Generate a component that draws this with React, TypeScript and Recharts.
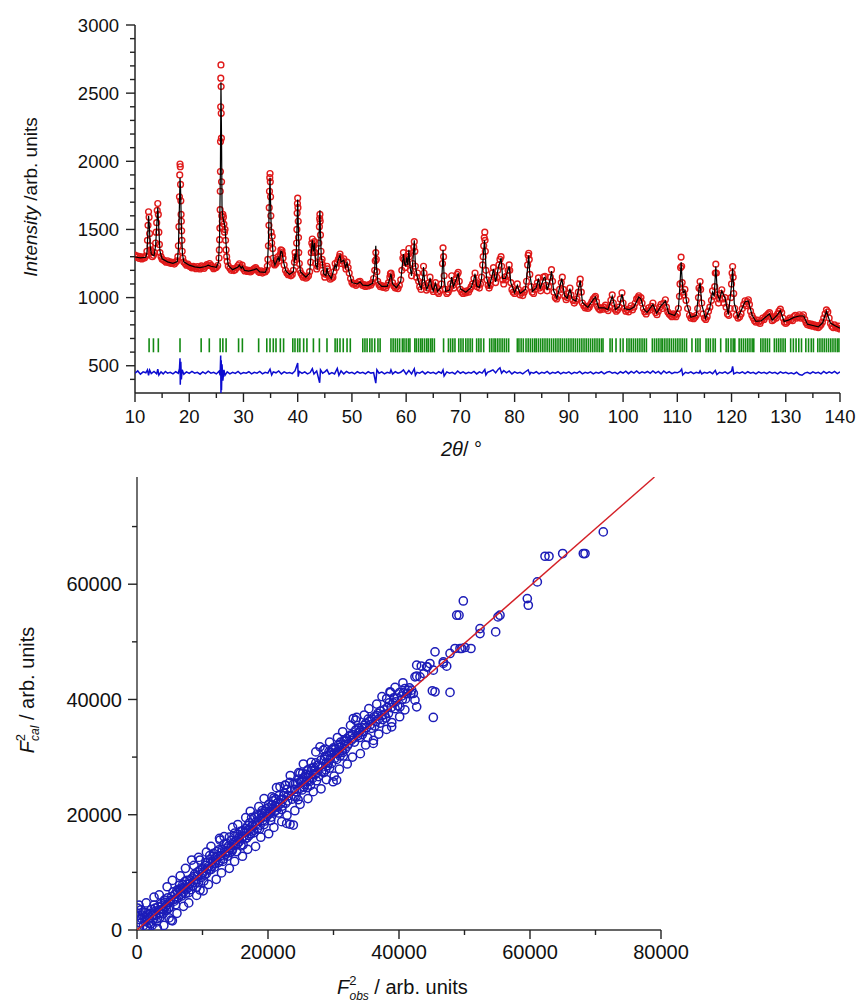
import React from 'react';
import { ScatterChart, Scatter, XAxis, YAxis } from 'recharts';

// ---------- top panel: powder pattern ----------
const observed: [number, number][] = [
  [10.0, 1312], [10.25, 1296], [10.5, 1305], [10.75, 1288], [11.0, 1300], [11.25, 1284], [11.5, 1298], [11.75, 1290], [12.0, 1305],
  [12.2, 1340], [12.3, 1420], [12.4, 1530], [12.5, 1630], [12.6, 1590], [12.7, 1470], [12.8, 1380], [12.9, 1350], [13.0, 1330], [13.2, 1300], [13.4, 1310], [13.6, 1330],
  [13.8, 1400], [13.9, 1480], [14.0, 1550], [14.1, 1640], [14.2, 1690], [14.3, 1610], [14.4, 1480], [14.5, 1390], [14.6, 1330], [14.8, 1300],
  [15.0, 1282], [15.25, 1275], [15.5, 1268], [15.75, 1260], [16.0, 1270], [16.25, 1255], [16.5, 1262], [16.75, 1250], [17.0, 1258], [17.25, 1246], [17.5, 1260], [17.75, 1270],
  [17.9, 1300], [18.0, 1380], [18.1, 1520], [18.2, 1740], [18.25, 1900], [18.3, 1980], [18.35, 1960], [18.4, 1830], [18.45, 1710], [18.5, 1610], [18.55, 1560], [18.6, 1490], [18.65, 1420], [18.7, 1340], [18.8, 1290],
  [19.0, 1262], [19.25, 1250], [19.5, 1238], [19.75, 1246], [20.0, 1232], [20.25, 1226], [20.5, 1218], [20.75, 1230], [21.0, 1222], [21.25, 1212], [21.5, 1228], [21.75, 1218], [22.0, 1210], [22.25, 1232], [22.5, 1224], [22.75, 1215], [23.0, 1230], [23.25, 1242], [23.5, 1236], [23.75, 1250], [24.0, 1238], [24.25, 1226], [24.5, 1212], [24.75, 1218], [25.0, 1222], [25.25, 1235],
  [25.5, 1290], [25.55, 1350], [25.6, 1425], [25.65, 1510], [25.7, 1645], [25.72, 1780], [25.75, 1925], [25.77, 2145], [25.8, 2400], [25.82, 2610], [25.85, 2707], [25.88, 2548], [25.9, 2352], [25.93, 2170], [25.96, 1850], [26.0, 1600], [26.05, 1520], [26.1, 1560], [26.2, 1610], [26.3, 1590], [26.4, 1540], [26.5, 1480], [26.6, 1500], [26.7, 1420], [26.8, 1350], [26.9, 1300], [27.0, 1265], [27.2, 1232],
  [27.5, 1215], [27.75, 1200], [28.0, 1212], [28.25, 1198], [28.5, 1206], [28.75, 1220], [29.0, 1235], [29.25, 1248], [29.5, 1225], [29.75, 1238], [30.0, 1210], [30.25, 1196], [30.5, 1204], [30.75, 1192], [31.0, 1200], [31.25, 1188], [31.5, 1196], [31.75, 1205], [32.0, 1212], [32.25, 1220], [32.5, 1206], [32.75, 1192], [33.0, 1185], [33.25, 1196], [33.5, 1180], [33.75, 1190], [34.0, 1188], [34.25, 1200],
  [34.4, 1230], [34.5, 1280], [34.6, 1380], [34.7, 1530], [34.75, 1660], [34.8, 1780], [34.85, 1880], [34.9, 1910], [34.95, 1850], [35.0, 1740], [35.05, 1600], [35.1, 1480], [35.2, 1400], [35.3, 1450], [35.4, 1360], [35.5, 1290], [35.6, 1250], [35.75, 1240],
  [36.0, 1250], [36.2, 1280], [36.4, 1300], [36.6, 1270], [36.8, 1320], [36.9, 1350], [37.0, 1330], [37.1, 1345], [37.2, 1320], [37.3, 1290], [37.5, 1240], [37.75, 1200], [38.0, 1180], [38.25, 1168], [38.5, 1175], [38.75, 1160], [39.0, 1170],
  [39.2, 1200], [39.4, 1260], [39.5, 1330], [39.6, 1300], [39.7, 1280], [39.8, 1400], [39.85, 1500], [39.9, 1620], [39.95, 1690], [40.0, 1730], [40.05, 1660], [40.1, 1560], [40.15, 1440], [40.2, 1330], [40.3, 1250], [40.4, 1200], [40.6, 1180], [40.8, 1165],
  [41.0, 1150], [41.25, 1158], [41.5, 1142], [41.75, 1150], [42.0, 1160], [42.2, 1190], [42.4, 1260], [42.5, 1330], [42.6, 1400], [42.7, 1430], [42.8, 1380], [42.9, 1340], [43.0, 1380], [43.1, 1410], [43.2, 1330], [43.3, 1250], [43.5, 1210],
  [43.7, 1230], [43.8, 1300], [43.9, 1400], [44.0, 1520], [44.05, 1580], [44.1, 1610], [44.15, 1560], [44.2, 1460], [44.3, 1340], [44.4, 1260], [44.5, 1280], [44.6, 1240], [44.8, 1180], [45.0, 1150], [45.2, 1170], [45.4, 1230], [45.5, 1210], [45.7, 1160],
  [46.0, 1135], [46.25, 1142], [46.5, 1150], [46.7, 1190], [46.9, 1250], [47.1, 1220], [47.3, 1260], [47.5, 1280], [47.7, 1300], [47.8, 1320], [47.9, 1290], [48.1, 1250], [48.3, 1270], [48.5, 1285], [48.7, 1240], [48.9, 1210], [49.1, 1260], [49.3, 1220], [49.5, 1180], [49.75, 1140],
  [50.0, 1110], [50.25, 1098], [50.5, 1105], [50.75, 1090], [51.0, 1100], [51.25, 1115], [51.5, 1120], [51.75, 1100], [52.0, 1088], [52.25, 1096], [52.5, 1082], [52.75, 1090], [53.0, 1085], [53.25, 1098], [53.5, 1092], [53.75, 1110],
  [54.0, 1140], [54.2, 1200], [54.3, 1270], [54.4, 1330], [54.5, 1280], [54.6, 1190], [54.75, 1120], [55.0, 1095], [55.25, 1080], [55.5, 1088], [55.75, 1075], [56.0, 1082], [56.25, 1070], [56.5, 1090], [56.75, 1110],
  [57.0, 1150], [57.1, 1175], [57.2, 1180], [57.3, 1160], [57.5, 1110], [57.75, 1085], [58.0, 1070], [58.25, 1078], [58.5, 1066], [58.75, 1090], [59.0, 1130], [59.2, 1200], [59.4, 1290], [59.5, 1330], [59.6, 1280], [59.8, 1220],
  [60.0, 1260], [60.1, 1300], [60.2, 1250], [60.4, 1320], [60.5, 1360], [60.6, 1300], [60.8, 1200], [61.0, 1160], [61.2, 1250], [61.4, 1370], [61.5, 1410], [61.6, 1340], [61.7, 1230], [61.9, 1150], [62.1, 1180], [62.3, 1120], [62.5, 1080], [62.75, 1060],
  [63.0, 1110], [63.2, 1230], [63.3, 1180], [63.5, 1090], [63.75, 1055], [64.0, 1070], [64.2, 1110], [64.4, 1150], [64.6, 1100], [64.8, 1060], [65.0, 1045], [65.25, 1080], [65.4, 1110], [65.6, 1070], [65.8, 1040], [66.0, 1030], [66.25, 1050],
  [66.5, 1100], [66.7, 1250], [66.8, 1365], [66.9, 1300], [67.0, 1160], [67.2, 1060], [67.5, 1030], [67.75, 1040], [68.0, 1060], [68.2, 1100], [68.4, 1160], [68.6, 1090], [68.8, 1070], [69.0, 1110], [69.2, 1140], [69.4, 1170], [69.6, 1185], [69.8, 1120],
  [70.0, 1060], [70.25, 1040], [70.5, 1030], [70.75, 1045], [71.0, 1035], [71.25, 1050], [71.5, 1040], [71.75, 1060], [72.0, 1080], [72.25, 1100], [72.5, 1140], [72.7, 1180], [72.9, 1110], [73.1, 1080], [73.3, 1095], [73.5, 1070], [73.7, 1100], [73.9, 1150],
  [74.1, 1240], [74.2, 1300], [74.3, 1380], [74.4, 1440], [74.5, 1480], [74.55, 1420], [74.6, 1340], [74.7, 1200], [74.9, 1130], [75.1, 1090], [75.3, 1070], [75.5, 1090], [75.7, 1130], [75.9, 1180], [76.1, 1220], [76.3, 1150], [76.5, 1110], [76.7, 1150],
  [76.9, 1200], [77.1, 1240], [77.3, 1280], [77.5, 1300], [77.6, 1230], [77.8, 1130], [78.0, 1100], [78.2, 1150], [78.4, 1130], [78.6, 1160], [78.8, 1200], [79.0, 1240], [79.1, 1200], [79.3, 1110], [79.5, 1060], [79.75, 1040],
  [80.0, 1030], [80.25, 1050], [80.5, 1100], [80.7, 1060], [81.0, 1020], [81.25, 1035], [81.5, 1015], [81.75, 1040], [82.0, 1060], [82.2, 1120], [82.4, 1240], [82.5, 1310], [82.6, 1325], [82.7, 1280], [82.8, 1170], [83.0, 1080], [83.25, 1040], [83.5, 1030], [83.75, 1060],
  [84.0, 1080], [84.2, 1110], [84.4, 1145], [84.6, 1070], [84.8, 1050], [85.0, 1080], [85.3, 1150], [85.6, 1155], [85.8, 1090], [86.0, 1050], [86.3, 1080], [86.6, 1150], [86.8, 1205], [87.0, 1120], [87.25, 1040], [87.5, 1000], [87.75, 990],
  [88.0, 1010], [88.3, 1060], [88.6, 1110], [88.8, 1150], [89.0, 1060], [89.25, 1010], [89.5, 985], [89.75, 1000], [90.0, 1030], [90.2, 1070], [90.4, 1020], [90.75, 980], [91.0, 960], [91.25, 975], [91.5, 990], [91.75, 1040], [92.0, 1100], [92.1, 1135], [92.3, 1040],
  [92.5, 960], [92.75, 940], [93.0, 925], [93.25, 935], [93.5, 920], [93.75, 930], [94.0, 950], [94.25, 970], [94.5, 990], [94.75, 1000], [94.9, 1010], [95.1, 970], [95.3, 935], [95.5, 920], [95.75, 910], [96.0, 925], [96.25, 915], [96.5, 930], [96.75, 945],
  [97.0, 920], [97.25, 905], [97.5, 930], [97.75, 980], [98.0, 1020], [98.2, 960], [98.5, 915], [98.75, 900], [99.0, 910], [99.25, 930], [99.5, 990], [99.8, 1035], [100.0, 960], [100.25, 920], [100.5, 900], [100.75, 910], [101.0, 895], [101.25, 920], [101.5, 940],
  [101.75, 910], [102.0, 930], [102.25, 960], [102.5, 990], [102.75, 1000], [102.9, 1013], [103.1, 980], [103.3, 1000], [103.5, 960], [103.75, 920], [104.0, 895], [104.25, 880], [104.5, 900], [104.75, 925], [105.0, 910], [105.25, 935], [105.5, 960], [105.75, 920],
  [106.0, 890], [106.25, 875], [106.5, 900], [106.75, 930], [107.0, 950], [107.25, 920], [107.5, 960], [107.8, 984], [108.0, 930], [108.25, 895], [108.5, 880], [108.75, 870], [109.0, 860], [109.25, 880], [109.5, 870], [109.75, 860], [110.0, 880],
  [110.2, 920], [110.4, 1010], [110.5, 1100], [110.6, 1220], [110.7, 1297], [110.8, 1230], [110.9, 1110], [111.0, 1040], [111.2, 1020], [111.4, 1060], [111.6, 980], [111.9, 920], [112.25, 870], [112.5, 850], [112.75, 860], [113.0, 845], [113.25, 855], [113.5, 870],
  [113.75, 920], [113.9, 1000], [114.0, 1070], [114.2, 1118], [114.3, 1060], [114.5, 960], [114.75, 880], [115.0, 850], [115.25, 840], [115.5, 860], [115.75, 900], [116.0, 930], [116.3, 980], [116.5, 1050], [116.7, 1010], [116.9, 1080], [117.0, 1180],
  [117.1, 1245], [117.2, 1180], [117.4, 1020], [117.6, 960], [117.8, 990], [118.0, 1030], [118.2, 1057], [118.4, 990], [118.6, 960], [118.8, 1000], [119.0, 930], [119.25, 880], [119.5, 870], [119.75, 920], [119.9, 1000], [120.0, 1100], [120.1, 1180],
  [120.2, 1228], [120.3, 1150], [120.4, 1030], [120.6, 920], [120.9, 870], [121.2, 850], [121.5, 860], [121.75, 880], [122.0, 920], [122.25, 950], [122.5, 977], [122.7, 940], [122.9, 970], [123.1, 984], [123.3, 950], [123.5, 900], [123.75, 870],
  [124.0, 850], [124.25, 830], [124.5, 820], [124.75, 835], [125.0, 820], [125.25, 810], [125.5, 830], [125.75, 850], [126.0, 840], [126.25, 860], [126.5, 870], [126.75, 880], [127.0, 889], [127.25, 860], [127.5, 830], [127.75, 840], [128.0, 860],
  [128.25, 850], [128.5, 880], [128.75, 900], [129.0, 915], [129.25, 890], [129.5, 850], [129.75, 820], [130.0, 810], [130.25, 820], [130.5, 835], [130.75, 850], [131.0, 840], [131.25, 830], [131.5, 860], [131.75, 870], [132.0, 850], [132.25, 860],
  [132.5, 874], [132.75, 850], [133.0, 860], [133.25, 874], [133.5, 840], [133.75, 815], [134.0, 800], [134.25, 810], [134.5, 795], [134.75, 805], [135.0, 790], [135.25, 800], [135.5, 785], [135.75, 795], [136.0, 780], [136.25, 790], [136.5, 800],
  [136.75, 820], [137.0, 850], [137.25, 880], [137.5, 910], [137.75, 895], [138.0, 850], [138.25, 810], [138.5, 790], [138.75, 780], [139.0, 800], [139.25, 785], [139.5, 775], [139.75, 790], [140.0, 770],
];

const calculated: [number, number][] = [
  [10, 1298], [11, 1292], [12, 1296], [12.2, 1330], [12.35, 1450], [12.5, 1600], [12.65, 1520], [12.8, 1380], [13.0, 1320], [13.5, 1305], [13.8, 1380], [14.0, 1520], [14.2, 1660], [14.35, 1540], [14.6, 1340],
  [15, 1285], [16, 1262], [17, 1252], [17.8, 1265], [18.0, 1360], [18.15, 1600], [18.3, 1880], [18.4, 1800], [18.55, 1520], [18.75, 1320], [19, 1262], [20, 1238], [21, 1225], [22, 1220], [23, 1228], [23.5, 1238], [24, 1230], [25, 1222],
  [25.4, 1260], [25.6, 1450], [25.75, 1950], [25.85, 2580], [25.95, 2200], [26.05, 1650], [26.2, 1590], [26.35, 1560], [26.55, 1530], [26.7, 1450], [26.9, 1330], [27.2, 1235], [28, 1205], [29, 1225], [29.25, 1238], [29.6, 1215], [29.8, 1228],
  [30.2, 1200], [31, 1195], [32, 1205], [32.4, 1212], [33, 1188], [34, 1185], [34.4, 1220], [34.6, 1400], [34.8, 1760], [34.9, 1880], [35.0, 1700], [35.15, 1450], [35.3, 1430], [35.5, 1280], [35.8, 1238], [36.2, 1275], [36.4, 1295], [36.6, 1265],
  [36.9, 1340], [37.1, 1335], [37.4, 1260], [37.8, 1195], [38.5, 1170], [39.2, 1190], [39.5, 1320], [39.7, 1275], [39.85, 1480], [40.0, 1720], [40.1, 1560], [40.25, 1300], [40.5, 1190], [41.5, 1150], [42.2, 1180], [42.5, 1330], [42.7, 1420],
  [42.9, 1340], [43.1, 1400], [43.3, 1240], [43.6, 1215], [43.9, 1380], [44.05, 1600], [44.1, 1640], [44.2, 1480], [44.35, 1290], [44.5, 1270], [44.8, 1175], [45.2, 1160], [45.4, 1220], [45.6, 1175], [46.2, 1140], [46.9, 1240], [47.1, 1215],
  [47.4, 1270], [47.8, 1310], [48.0, 1260], [48.5, 1275], [48.8, 1220], [49.1, 1255], [49.4, 1200], [50, 1110], [51, 1100], [51.5, 1115], [52, 1092], [53, 1088], [53.8, 1105], [54.2, 1210], [54.4, 1380], [54.55, 1220], [54.8, 1110],
  [55.5, 1082], [56.5, 1082], [57.0, 1140], [57.2, 1175], [57.5, 1100], [58.2, 1072], [59.0, 1120], [59.3, 1240], [59.5, 1320], [59.7, 1250], [59.9, 1230], [60.1, 1295], [60.3, 1240], [60.5, 1350], [60.7, 1230], [61.0, 1160], [61.3, 1300],
  [61.5, 1420], [61.7, 1240], [62.0, 1160], [62.4, 1100], [62.8, 1065], [63.1, 1160], [63.2, 1225], [63.4, 1120], [63.8, 1060], [64.2, 1100], [64.4, 1145], [64.7, 1080], [65.0, 1050], [65.4, 1105], [65.8, 1045], [66.5, 1080], [66.7, 1240],
  [66.8, 1350], [67.0, 1150], [67.3, 1045], [68.0, 1055], [68.4, 1150], [68.7, 1080], [69.2, 1130], [69.6, 1180], [70.0, 1065], [71, 1040], [72, 1075], [72.5, 1135], [72.7, 1175], [73.0, 1085], [73.5, 1075], [73.9, 1140], [74.2, 1290],
  [74.45, 1420], [74.6, 1320], [74.8, 1150], [75.3, 1075], [75.9, 1170], [76.1, 1210], [76.5, 1115], [77.0, 1220], [77.5, 1290], [77.8, 1140], [78.3, 1140], [79.0, 1230], [79.3, 1110], [80.0, 1035], [80.5, 1090], [81, 1030], [82.0, 1060],
  [82.4, 1220], [82.6, 1310], [82.8, 1170], [83.3, 1045], [84.0, 1075], [84.4, 1140], [84.7, 1065], [85.4, 1145], [85.6, 1150], [86.0, 1055], [86.6, 1140], [86.8, 1195], [87.2, 1050], [87.8, 995], [88.7, 1140], [89.2, 1015], [89.7, 995],
  [90.2, 1065], [90.6, 990], [91.3, 975], [92.1, 1125], [92.5, 965], [93.5, 928], [94.5, 985], [94.9, 1005], [95.5, 925], [96.5, 925], [97.2, 912], [98.0, 1010], [98.6, 912], [99.3, 935], [99.8, 1025], [100.3, 918], [101.2, 912], [102.0, 930],
  [102.9, 1005], [103.3, 990], [103.8, 918], [104.4, 890], [105.5, 950], [106.2, 885], [107.0, 940], [107.8, 975], [108.4, 885], [109.5, 868], [110.2, 920], [110.5, 1100], [110.7, 1260], [110.9, 1120], [111.1, 1035], [111.4, 1050],
  [111.8, 945], [112.5, 855], [113.5, 868], [114.0, 1060], [114.2, 1110], [114.5, 950], [115.2, 848], [116.0, 925], [116.5, 1040], [116.8, 1010], [117.1, 1230], [117.4, 1020], [117.8, 985], [118.2, 1050], [118.8, 995], [119.4, 875],
  [120.0, 1090], [120.2, 1215], [120.5, 960], [121.2, 855], [122.5, 970], [123.1, 975], [123.8, 870], [124.5, 825], [125.5, 830], [126.5, 865], [127.0, 880], [127.5, 835], [128.5, 875], [129.0, 905], [129.7, 825], [130.5, 835],
  [131.5, 855], [132.5, 865], [133.3, 865], [134.0, 805], [135.0, 795], [136.0, 785], [136.8, 815], [137.5, 900], [138.2, 815], [139.0, 795], [140, 775],
];

const difference: [number, number][] = [
  [10, 445], [10.5, 462], [11, 438], [11.5, 455], [12, 448], [12.3, 470], [12.5, 430], [12.7, 468], [13, 442], [13.5, 458], [14, 440], [14.2, 475], [14.4, 432], [14.8, 455], [15.2, 440], [15.6, 458], [16, 446], [16.5, 452], [17, 440], [17.5, 456],
  [18, 445], [18.2, 480], [18.3, 555], [18.35, 360], [18.45, 530], [18.55, 400], [18.7, 470], [19, 438], [19.5, 455], [20, 444], [20.5, 458], [21, 446], [21.5, 452], [22, 438], [22.5, 455], [23, 442], [23.5, 460], [24, 446], [24.5, 452], [25, 440],
  [25.5, 460], [25.7, 430], [25.8, 575], [25.85, 300], [25.9, 540], [25.95, 320], [26.05, 510], [26.2, 390], [26.4, 470], [26.6, 430], [27, 455], [27.5, 440], [28, 452], [28.5, 444], [29, 458], [29.5, 440], [30, 450], [30.5, 445], [31, 456],
  [31.5, 440], [32, 452], [32.5, 446], [33, 458], [33.5, 440], [34, 452], [34.5, 446], [34.9, 475], [35.2, 432], [35.5, 455], [36, 448], [36.5, 462], [37, 440], [37.5, 455], [38, 445], [38.5, 450], [39, 442], [39.5, 462], [40, 520], [40.1, 420],
  [40.3, 458], [40.8, 444], [41.3, 455], [41.8, 440], [42.3, 450], [42.7, 478], [43, 440], [43.5, 462], [44.05, 375], [44.2, 470], [44.6, 445], [45, 455], [45.4, 470], [45.8, 438], [46.3, 450], [46.8, 440], [47.3, 480], [47.6, 430], [48, 462],
  [48.5, 440], [49, 458], [49.5, 445], [50, 452], [50.5, 440], [51, 456], [51.5, 446], [52, 452], [52.5, 440], [53, 456], [53.5, 446], [54, 450], [54.4, 372], [54.6, 470], [55, 445], [55.5, 455], [56, 440], [56.5, 452], [57, 446], [57.2, 470],
  [57.5, 440], [58, 456], [58.5, 445], [59, 452], [59.5, 470], [60, 438], [60.5, 465], [61, 440], [61.5, 478], [61.7, 430], [62, 452], [62.5, 446], [63, 458], [63.5, 440], [64, 455], [64.5, 445], [65, 452], [65.5, 440], [66, 456], [66.5, 445],
  [66.8, 470], [67, 425], [67.5, 455], [68, 446], [68.5, 452], [69, 440], [69.5, 462], [70, 445], [70.5, 455], [71, 442], [71.5, 452], [72, 446], [72.5, 458], [73, 440], [73.5, 455], [74, 446], [74.5, 472], [74.7, 432], [75, 452], [75.5, 460],
  [76, 470], [76.5, 448], [77, 475], [77.3, 485], [77.6, 446], [78, 465], [78.5, 448], [79, 462], [79.5, 440], [80, 455], [80.5, 446], [81, 452], [81.5, 440], [82, 456], [82.5, 470], [82.8, 438], [83, 452], [83.5, 446], [84, 456], [84.5, 440],
  [85, 452], [85.5, 446], [86, 458], [86.5, 440], [87, 452], [87.5, 446], [88, 456], [88.5, 440], [89, 452], [89.5, 446], [90, 455], [90.5, 440], [91, 452], [91.5, 446], [92, 458], [92.5, 440], [93, 452], [93.5, 446], [94, 455], [94.5, 440],
  [95, 452], [95.5, 446], [96, 456], [96.5, 440], [97, 452], [97.5, 458], [98, 446], [98.5, 452], [99, 440], [99.5, 456], [100, 446], [100.5, 460], [101, 442], [101.5, 458], [102, 446], [102.5, 462], [103, 444], [103.5, 456], [104, 448],
  [104.5, 458], [105, 444], [105.5, 462], [106, 446], [106.5, 458], [107, 440], [107.5, 462], [108, 446], [108.5, 456], [109, 442], [109.5, 452], [110, 448], [110.5, 458], [110.8, 475], [111, 432], [111.5, 452], [112, 446], [112.5, 455],
  [113, 442], [113.5, 452], [114, 446], [114.2, 462], [114.5, 440], [115, 452], [115.5, 446], [116, 455], [116.5, 442], [117, 465], [117.3, 435], [117.8, 452], [118.3, 446], [118.8, 455], [119.3, 442], [120, 460], [120.2, 495], [120.4, 440],
  [121, 452], [121.5, 446], [122, 455], [122.5, 442], [123, 456], [123.5, 446], [124, 452], [124.5, 440], [125, 455], [125.5, 446], [126, 452], [126.5, 442], [127, 455], [127.5, 446], [128, 452], [128.5, 440], [129, 455], [129.5, 446],
  [130, 452], [130.5, 442], [131, 448], [131.5, 440], [132, 452], [132.5, 436], [133, 430], [133.5, 446], [134, 452], [134.5, 442], [135, 455], [135.5, 446], [136, 452], [136.5, 440], [137, 458], [137.5, 444], [138, 455], [138.5, 446],
  [139, 458], [139.5, 442], [140, 455],
];

const braggPositions = [
  12.6, 13.4, 14.3, 18.3, 22.2, 23.7, 25.7, 26.2, 26.8, 29.1, 29.8, 32.8, 34.3, 34.9, 35.5, 36.0, 36.8, 37.4, 39.1, 39.5, 40.0, 40.4, 41.1, 41.7, 42.9, 44.0, 45.4,
  46.9, 47.3, 47.8, 48.4, 49.1, 49.7, 52.0, 52.4, 52.8, 53.3, 53.7, 54.2, 54.8, 55.2, 57.2, 57.6, 58.0, 58.4, 58.8, 59.3, 59.6, 60.0, 60.4, 60.7, 61.6, 61.9,
  62.3, 62.7, 63.0, 63.4, 63.8, 64.1, 64.5, 64.8, 65.2, 66.9, 67.8, 68.2, 68.6, 69.0, 69.7, 70.1, 70.5, 71.0, 71.4, 71.8, 72.2, 73.0, 73.4, 73.8, 74.3, 75.4,
  75.8, 76.2, 76.5, 76.9, 77.3, 77.7, 78.1, 78.5, 78.9, 80.5, 80.8, 81.2, 81.6, 82.1, 82.5, 82.9, 83.3, 83.7, 84.0, 84.4, 84.8, 85.2, 85.6, 86.0, 86.4, 86.8,
  87.2, 87.6, 88.0, 88.4, 88.8, 89.2, 89.6, 90.0, 90.4, 90.8, 91.2, 91.6, 92.0, 92.4, 92.8, 93.2, 93.6, 94.0, 94.4, 94.8, 95.2, 95.6, 96.0, 96.3, 97.6, 98.0,
  98.7, 99.5, 100.0, 100.7, 101.1, 101.5, 101.9, 102.3, 102.7, 103.1, 103.5, 103.9, 104.3, 105.4, 105.8, 106.2, 106.6, 107.0, 107.3, 107.7, 108.1, 108.5,
  108.9, 109.3, 109.7, 110.1, 110.5, 110.9, 111.3, 111.7, 112.7, 113.4, 113.8, 114.2, 115.3, 115.7, 116.1, 116.6, 117.0, 118.0, 119.0, 119.4, 119.9, 120.3,
  120.6, 121.4, 121.8, 122.2, 122.6, 123.0, 123.4, 123.8, 124.1, 125.4, 125.8, 126.2, 126.6, 127.0, 127.9, 128.3, 128.7, 129.1, 129.5, 129.9, 130.9, 131.4,
  131.9, 132.4, 132.9, 133.7, 134.2, 134.7, 135.1, 135.9, 136.3, 136.7, 137.1, 137.5, 137.9, 138.3, 138.7, 139.1, 139.5, 139.8,
];
const braggLevel = 650;

const twoThetaTicks = [10, 20, 30, 40, 50, 60, 70, 80, 90, 100, 110, 120, 130, 140];
const twoThetaMinor = [15, 25, 35, 45, 55, 65, 75, 85, 95, 105, 115, 125, 135];
const intensityTicks = [500, 1000, 1500, 2000, 2500, 3000];
const intensityMinor = [400, 600, 700, 800, 900, 1100, 1200, 1300, 1400, 1600, 1700, 1800, 1900, 2100, 2200, 2300, 2400, 2600, 2700, 2800, 2900];

// ---------- bottom panel: F2 calc vs F2 obs ----------
const reflections: [number, number][] = [
  [100, 3800], [300, 4300], [600, 3500], [200, 2500], [400, 1800], [800, 2600], [1000, 800], [1200, 1500], [1300, 3000], [1500, 2200], [1600, 400], [1800, 1200],
  [2000, 2900], [2200, 3600], [2300, 800], [2500, 1900], [2600, 4300], [2700, 3200], [2900, 2500], [3000, 1400], [3200, 4000], [3400, 3000], [3500, 2200], [3700, 4600],
  [3900, 3600], [4000, 2800], [4200, 5200], [4400, 4100], [4500, 3400], [4700, 5600], [4900, 4800], [5000, 4000], [5200, 1700], [5400, 1600], [5300, 5800], [5500, 6600],
  [5700, 5000], [5900, 4400], [6100, 6900], [6300, 5600], [6500, 7800], [6700, 6200], [6900, 7300], [7100, 6600], [7300, 8400], [7500, 7100], [7700, 7900], [7900, 6500],
  [8100, 8700], [8350, 12140], [8500, 7600], [8700, 9300], [8900, 8200], [9100, 7400], [9300, 10100], [9620, 12140], [9620, 6940], [9800, 9100], [10000, 10600],
  [500, 1200], [700, 2000], [900, 3100], [1100, 2300], [1400, 600], [1700, 2700], [1900, 1900], [2100, 1100], [2400, 2600], [2800, 3800], [3100, 2000], [3300, 3500],
  [3600, 2900], [3800, 4200], [4100, 3500], [4300, 4800], [4600, 4400], [4800, 3700], [5100, 5100], [5600, 5300], [5800, 6200], [6000, 5400], [6200, 6500], [6400, 7100],
  [6600, 6800], [6800, 5900], [7000, 7900], [7200, 7200], [7400, 6300], [7600, 8600], [7800, 7300], [8000, 8000], [8200, 7000], [8400, 9000], [8600, 8300], [8800, 9700],
  [9000, 8700], [9200, 9400], [9400, 8200], [9600, 10400], [9900, 9600],
  [10200, 8500], [10400, 11200], [10600, 9800], [10800, 11800], [11000, 10400], [11200, 12300], [11400, 11000], [11600, 12800], [11800, 10900], [12000, 12500],
  [12200, 13600], [12400, 11700], [12670, 15600], [12800, 12900], [13000, 14000], [13200, 12300], [13400, 13500], [13690, 15030], [13800, 12800], [14000, 14600],
  [14200, 13400], [14400, 15500], [14600, 14000], [14800, 16200], [15000, 14700], [15200, 13600], [15400, 16600], [15600, 15300], [15800, 17100], [16000, 15800],
  [10100, 10000], [10300, 9500], [10500, 11700], [10700, 10600], [10900, 11000], [11100, 12900], [11300, 10500], [11500, 11900], [11700, 13300], [11900, 11500],
  [12100, 12000], [12300, 12800], [12500, 13900], [12700, 12000], [12900, 13500], [13100, 11900], [13300, 14900], [13500, 13100], [13700, 14200], [13900, 13700],
  [14100, 16100], [14300, 14300], [14500, 13700], [14700, 15100], [14900, 16800], [15100, 15500], [15300, 14900], [15500, 15900], [15700, 16300], [15900, 14600],
  [16200, 14800], [16400, 16900], [16600, 17600], [16800, 16000], [17000, 17400], [17200, 18600], [17400, 16700], [17600, 18200], [17800, 17300], [18000, 19600],
  [18200, 18800], [18400, 17600], [18600, 19900], [18800, 18200], [19000, 20300], [19200, 19000], [19400, 18300], [19600, 20600], [19800, 19700], [20000, 21200],
  [16100, 17200], [16300, 16300], [16500, 15800], [16700, 17000], [16900, 18100], [17100, 16400], [17300, 17500], [17500, 19500], [17700, 18100], [17900, 16900],
  [18100, 18200], [18300, 20000], [18500, 18900], [18700, 17500], [18900, 19400], [19100, 20700], [19300, 19600], [19500, 18900], [19700, 21000], [19900, 20200],
  [20200, 20100], [20400, 19000], [20600, 21700], [20800, 22400], [21000, 20500], [21200, 22700], [21400, 21300], [21600, 20300], [21830, 24850], [22000, 22600],
  [22200, 21500], [22400, 23300], [22600, 25140], [22850, 18500], [23000, 22400], [23360, 18350], [23500, 24200], [23870, 18210], [24000, 23200], [24200, 25400],
  [24400, 24000], [24600, 22600], [24890, 27170], [25000, 25600], [25200, 24300], [25400, 26400], [25600, 25200], [25800, 27000], [26000, 24700], [26200, 26800],
  [20100, 21800], [20300, 20600], [20500, 19600], [20700, 21000], [20900, 22900], [21100, 21600], [21300, 20800], [21500, 22100], [21700, 23300], [21900, 21900],
  [22100, 20900], [22300, 22700], [22500, 23800], [22700, 22000], [22900, 24400], [23100, 23300], [23300, 25600], [23700, 22700], [23900, 25300], [24100, 24400],
  [24300, 23200], [24500, 25500], [24700, 26200], [24900, 24600], [25100, 25900], [25300, 27200], [25500, 24800], [25700, 26600], [25900, 25800], [26100, 27800],
  [26400, 25800], [26600, 27600], [26800, 26300], [27000, 28200], [27200, 27000], [27400, 25900], [27600, 28600], [27940, 31780], [28200, 27500], [28450, 31210],
  [28600, 29600], [28800, 27800], [29000, 30200], [29200, 29000], [29400, 28100], [29600, 30800], [29940, 25720], [30000, 31600], [30200, 29800], [30480, 26010],
  [26300, 26000], [26500, 25100], [26700, 28100], [26900, 27100], [27100, 27700], [27300, 29000], [27500, 27300], [27700, 26600], [27900, 28400], [28100, 29500],
  [28300, 28300], [28500, 27300], [28700, 30100], [28900, 29000], [29100, 28500], [29300, 30900], [29500, 29700], [29700, 28900], [29900, 31300],
  [30600, 31000], [30800, 32200], [31000, 30200], [31200, 31800], [31400, 30800], [31600, 32800], [31800, 31400], [32000, 33200], [32300, 32300], [32600, 33800],
  [33030, 36700], [33200, 32600], [33540, 36880], [33800, 34200], [34000, 33400], [34300, 35100], [34600, 34400], [34900, 35800], [35200, 33400], [35500, 36200],
  [30100, 30600], [30300, 31400], [30500, 29600], [30700, 30600], [30900, 31700], [31100, 32600], [31300, 31100], [31500, 30200], [31700, 32200], [31900, 32800],
  [32100, 31900], [32400, 33600], [32700, 32900], [32900, 33900], [33100, 33300], [33400, 34700], [33700, 33700], [33900, 35000], [34100, 34600], [34400, 33900],
  [34700, 35500], [35000, 35100], [35300, 36600], [35600, 35600], [35900, 36600], [36300, 35400], [36600, 37200], [36900, 36600], [37200, 38000], [37500, 36500],
  [37800, 37400], [38200, 38600], [38500, 39400], [38800, 38600], [39200, 40300], [39500, 39600], [39800, 38900], [40100, 41200], [40500, 40000], [40900, 41900],
  [41200, 41000], [41600, 42000],
  // outer edges of the band
  [1400, 4700], [2600, 5700], [3400, 6100], [4600, 7500], [5400, 8600], [6600, 9400], [7400, 10700], [8700, 11200], [9400, 12600], [10600, 13500], [11300, 14500],
  [12600, 15900], [13300, 16200], [14600, 17800], [15400, 18300], [16600, 19500], [17300, 20600], [18600, 21400], [19400, 22800], [20600, 23100], [21300, 24700],
  [22700, 25100], [23400, 26800], [24700, 27300], [25400, 28800], [26600, 29100], [27300, 30900], [28700, 31400], [29400, 32600], [30600, 33400], [31400, 34400],
  [32600, 35500], [33400, 36400], [34700, 37300], [35400, 38400], [36600, 39200], [37400, 40500], [38700, 41200], [39400, 42100], [40600, 42900],
  [3100, 300], [4100, 800], [4900, 2100], [6100, 2900], [7100, 4100], [7900, 4700], [9100, 6000], [10100, 6800], [10900, 7900], [12100, 8800], [12900, 9900],
  [14100, 10700], [14900, 11900], [16100, 12800], [16900, 14000], [18100, 14500], [18900, 16100], [20100, 16700], [20900, 17800], [22100, 18800], [22900, 19900],
  [24100, 20700], [24900, 21800], [26100, 22800], [26900, 24000], [28100, 24500], [28900, 26100], [30100, 26700], [30900, 27900], [32100, 28800], [32900, 30000],
  [34100, 30600], [34900, 32100], [36100, 32900], [36900, 34000], [38100, 34800], [38900, 36000], [40100, 37000], [40900, 38200],
  [35800, 35000], [36080, 32370], [36200, 37000], [36500, 36200], [36800, 37600], [37100, 35900], [37400, 37200], [37700, 38200], [38000, 36800], [38120, 40170],
  [38400, 37600], [38630, 41330], [38880, 35260], [39100, 39400], [39400, 38400], [39700, 40200], [40150, 38720], [40400, 40600], [40700, 41200], [41000, 40100],
  [41400, 41600], [41800, 41000], [41940, 41620], [42190, 41040], [42440, 43930], [42440, 39880], [42700, 38720], [42700, 44040], [42700, 45950], [43200, 43930],
  [43400, 45800], [44220, 45660], [44320, 45660], [43800, 44500], [44720, 46240], [45240, 45080], [45090, 41510], [45500, 41330], [45240, 36880], [45500, 48260],
  [46770, 46530], [46770, 46250], [47280, 45780], [47790, 47980], [47790, 41220], [48550, 48840], [49310, 48840], [49570, 48840], [50070, 49020], [50990, 48840],
  [48810, 54620], [49160, 54620], [49820, 57090], [52370, 52300], [52370, 51430], [54760, 51720], [55110, 54330], [55420, 54620], [59590, 57500], [59740, 56350],
  [61120, 60400], [62290, 64850], [62900, 64850], [64990, 65320], [68140, 65320], [68400, 65320], [71190, 69070],
];
const fitLine: [number, number][] = [[0, 0], [79000, 78600]];

const fObsTicks = [0, 20000, 40000, 60000, 80000];
const fObsMinor = [10000, 30000, 50000, 70000];
const fCalTicks = [0, 20000, 40000, 60000];
const fCalMinor = [10000, 30000, 50000, 70000];

// ---------- styling ----------
const FONT = '"Liberation Sans", Arial, Helvetica, sans-serif';
const AXIS = '#222';
const TEXT = '#111';

const toXY = (rows: [number, number][]) => rows.map(([x, y]) => ({ x, y }));
const merge = (a: number[], b: number[]) => [...a, ...b].sort((p, q) => p - q);

const makeXTick = (majors: number[], fontSize: number, labelOffset: number) => (props: any) => {
  const { x, y, payload } = props;
  const major = majors.includes(payload.value);
  return (
    <g>
      <line x1={x} x2={x} y1={y} y2={y + (major ? 9 : 5)} stroke={AXIS} strokeWidth={1.4} />
      {major && (
        <text x={x} y={y + labelOffset} textAnchor="middle" fontSize={fontSize} fontFamily={FONT} fill={TEXT}>
          {payload.value}
        </text>
      )}
    </g>
  );
};

const makeYTick = (majors: number[], fontSize: number, labelGap: number) => (props: any) => {
  const { x, y, payload } = props;
  const major = majors.includes(payload.value);
  return (
    <g>
      <line x1={x} x2={x - (major ? 9 : 5)} y1={y} y2={y} stroke={AXIS} strokeWidth={1.4} />
      {major && (
        <text x={x - labelGap} y={y} dy="0.36em" textAnchor="end" fontSize={fontSize} fontFamily={FONT} fill={TEXT}>
          {payload.value}
        </text>
      )}
    </g>
  );
};

const noShape = () => <g />;

export default function App() {
  const obsData = toXY(observed);
  const calcData = toXY(calculated);
  const diffData = toXY(difference);
  const braggData = braggPositions.map((x) => ({ x, y: braggLevel }));
  const reflData = toXY(reflections);
  const lineData = toXY(fitLine);

  return (
    <div style={{ position: 'absolute', left: 0, top: 0, width: 857, height: 1003, background: '#fff' }}>
      <div style={{ position: 'absolute', left: 0, top: 0 }}>
        <ScatterChart width={857} height={470} margin={{ top: 25, right: 17, bottom: 37, left: 75 }}>
          <XAxis
            type="number"
            dataKey="x"
            domain={[10, 140]}
            allowDataOverflow
            ticks={merge(twoThetaTicks, twoThetaMinor)}
            interval={0}
            tickSize={0}
            tickMargin={0}
            tickLine={false}
            tick={makeXTick(twoThetaTicks, 18.5, 30)}
            axisLine={{ stroke: AXIS, strokeWidth: 1.5 }}
            height={40}
          />
          <YAxis
            type="number"
            dataKey="y"
            domain={[300, 3000]}
            allowDataOverflow
            ticks={merge(intensityTicks, intensityMinor)}
            interval={0}
            tickSize={0}
            tickMargin={0}
            tickLine={false}
            tick={makeYTick(intensityTicks, 18.5, 16)}
            axisLine={{ stroke: AXIS, strokeWidth: 1.5 }}
            width={60}
          />
          <Scatter
            data={obsData}
            isAnimationActive={false}
            shape={(p: any) => <circle cx={p.cx} cy={p.cy} r={2.9} fill="none" stroke="#e01a1a" strokeWidth={1.4} />}
          />
          <Scatter data={calcData} isAnimationActive={false} line={{ stroke: '#000', strokeWidth: 1.2 }} shape={noShape} />
          <Scatter
            data={braggData}
            isAnimationActive={false}
            shape={(p: any) => <line x1={p.cx} x2={p.cx} y1={p.cy - 7} y2={p.cy + 7} stroke="#138a13" strokeWidth={1.6} />}
          />
          <Scatter data={diffData} isAnimationActive={false} line={{ stroke: '#0c0cd0', strokeWidth: 1.5 }} shape={noShape} />
        </ScatterChart>
      </div>

      <div style={{ position: 'absolute', left: 0, top: 470 }}>
        <ScatterChart width={857} height={533} margin={{ top: 7, right: 196, bottom: 33, left: 67 }}>
          <XAxis
            type="number"
            dataKey="x"
            domain={[0, 80000]}
            allowDataOverflow
            ticks={merge(fObsTicks, fObsMinor)}
            interval={0}
            tickSize={0}
            tickMargin={0}
            tickLine={false}
            tick={makeXTick(fObsTicks, 20, 29)}
            axisLine={{ stroke: '#333', strokeWidth: 1.4 }}
            height={40}
          />
          <YAxis
            type="number"
            dataKey="y"
            domain={[0, 78600]}
            allowDataOverflow
            ticks={merge(fCalTicks, fCalMinor)}
            interval={0}
            tickSize={0}
            tickMargin={0}
            tickLine={false}
            tick={makeYTick(fCalTicks, 20, 15)}
            axisLine={{ stroke: '#333', strokeWidth: 1.4 }}
            width={70}
          />
          <Scatter
            data={reflData}
            isAnimationActive={false}
            shape={(p: any) => <circle cx={p.cx} cy={p.cy} r={4.1} fill="none" stroke="#1c1cb8" strokeWidth={1.5} />}
          />
          <Scatter data={lineData} isAnimationActive={false} line={{ stroke: '#d42027', strokeWidth: 1.4 }} shape={noShape} />
        </ScatterChart>
      </div>

      <svg width={857} height={1003} style={{ position: 'absolute', left: 0, top: 0, pointerEvents: 'none' }}>
        <text transform="rotate(-90)" x={-197} y={37} textAnchor="middle" fontSize={19} fontFamily={FONT} fill={TEXT}>
          <tspan fontStyle="italic">Intensity</tspan> /arb. units
        </text>
        <text x={441} y={456} fontSize={20} fontFamily={FONT} fill={TEXT}>
          <tspan fontStyle="italic">2θ</tspan>/ °
        </text>
        <text transform="rotate(-90)" x={-690} y={34} textAnchor="middle" fontSize={20} fontFamily={FONT} fill={TEXT}>
          <tspan fontStyle="italic">F</tspan>
          <tspan dy={-9} fontSize={13}>2</tspan>
          <tspan dx={-7} dy={14} fontSize={12} fontStyle="italic">cal</tspan>
          <tspan dy={-5}> / arb. units</tspan>
        </text>
        <text x={337} y={994} fontSize={20} fontFamily={FONT} fill={TEXT}>
          <tspan fontStyle="italic">F</tspan>
          <tspan dy={-9} fontSize={13}>2</tspan>
          <tspan dx={-7} dy={15} fontSize={12} fontStyle="italic">obs</tspan>
          <tspan dy={-6}> / arb. units</tspan>
        </text>
      </svg>
    </div>
  );
}
